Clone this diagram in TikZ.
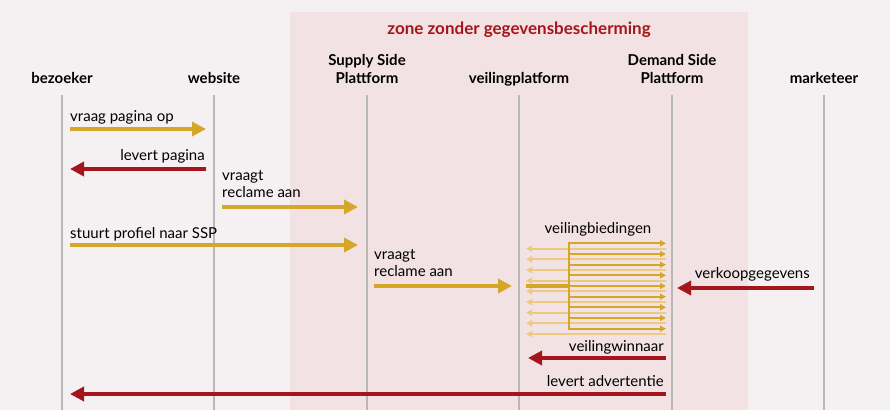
\documentclass[tikz,border=0pt]{standalone}
\usepackage{fontspec}
\setmainfont{Lato}
\usetikzlibrary{arrows.meta}
\definecolor{gold}{HTML}{D6A629}
\definecolor{lgold}{HTML}{ECCB80}
\definecolor{dred}{HTML}{A5161C}
\definecolor{bg}{HTML}{F5F1F2}
\definecolor{zone}{HTML}{F2E2E3}
\definecolor{life}{HTML}{B9B7B8}
\begin{document}
\begin{tikzpicture}[x=1pt,y=-1pt,
  lbl/.style={font=\fontsize{15}{17}\selectfont,inner sep=0pt},
  hdr/.style={font=\fontsize{15}{18}\selectfont\bfseries,align=center,inner sep=0pt},
  big/.style={line width=4pt,-{Triangle[length=14pt,width=14pt]}},
  ga/.style={big,draw=gold},
  ra/.style={big,draw=dred},
  thin/.style={line width=1.8pt,-{Triangle[length=6pt,width=6pt]}},
  lifeline/.style={draw=life,line width=1.5pt}]
\fill[bg] (0,0) rectangle (890,410);
\useasboundingbox (0,0) rectangle (890,410);
\fill[zone] (290,12) rectangle (748,410);
\node[font=\fontsize{17}{20}\selectfont\bfseries,inner sep=0pt,text=dred] (zt) at (519,30) {zone zonder gegevensbescherming};
\foreach \n/\x/\t in {b/62/bezoeker,w/214/website,s/367/{Supply Side\\Plattform},v/519/veilingplatform,d/672/{Demand Side\\Plattform},m/824/marketeer}{
  \node[hdr,anchor=base] (h\n) at (\x,83) {\t};
  \coordinate (t\n) at (\x,95);
  \coordinate (e\n) at (\x,410);
  \draw[lifeline] (t\n) -- (e\n);
}
% messages
\coordinate (a1) at (70,129); \coordinate (a2) at (206,129);
\draw[ga] (a1) -- (a2);
\node[lbl,anchor=base west] (l1) at (70,121) {vraag pagina op};
\coordinate (b1) at (206,169); \coordinate (b2) at (70,169);
\draw[ra] (b1) -- (b2);
\node[lbl,anchor=base east] (l2) at (205,160) {levert pagina};
\coordinate (c1) at (222,207); \coordinate (c2) at (358,207);
\draw[ga] (c1) -- (c2);
\node[lbl,anchor=north west,align=left] (l3) at (222,170) {vraagt\\reclame aan};
\coordinate (d1) at (70,245); \coordinate (d2) at (358,245);
\draw[ga] (d1) -- (d2);
\node[lbl,anchor=base west] (l4) at (70,238) {stuurt profiel naar SSP};
\coordinate (f1) at (374,286); \coordinate (f2) at (512,286);
\draw[ga] (f1) -- (f2);
\node[lbl,anchor=north west,align=left] (l5) at (374,249) {vraagt\\reclame aan};
\coordinate (g1) at (814,288); \coordinate (g2) at (677,288);
\draw[ra] (g1) -- (g2);
\node[lbl,anchor=base east] (l6) at (810,278) {verkoopgegevens};
% auction
\node[lbl,anchor=base] (l7) at (598,233) {veilingbiedingen};
\foreach \y in {248.7,259.3,270,280.7,291.3,302,312.7,323.3,334}{
  \coordinate (p) at (666,\y); \coordinate (q) at (526,\y);
  \draw[thin,draw=lgold] (p) -- (q);
}
\coordinate (vt) at (569,243); \coordinate (vb) at (569,329);
\draw[gold,line width=1.8pt] (vt) -- (vb);
\foreach \y in {243.3,254,264.7,275.3,286,296.7,307.3,318,328.7}{
  \coordinate (p) at (568.1,\y); \coordinate (q) at (666,\y);
  \draw[thin,draw=gold] (p) -- (q);
}
\coordinate (k1) at (526,286); \coordinate (k2) at (570,286);
\draw[gold,line width=4pt] (k1) -- (k2);
\coordinate (h1) at (666,358); \coordinate (h2) at (528,358);
\draw[ra] (h1) -- (h2);
\node[lbl,anchor=base east] (l8) at (664,351) {veilingwinnaar};
\coordinate (i1) at (666,394); \coordinate (i2) at (70,394);
\draw[ra] (i1) -- (i2);
\node[lbl,anchor=base east] (l9) at (664,386) {levert advertentie};
\end{tikzpicture}
\end{document}
